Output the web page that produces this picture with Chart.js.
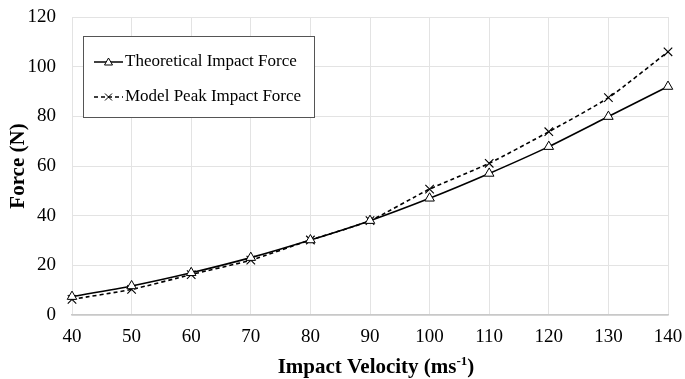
<!DOCTYPE html>
<html>
<head>
<meta charset="utf-8">
<script src="https://cdn.jsdelivr.net/npm/chart.js@4"></script>
<style>
html,body{margin:0;padding:0;background:#fff;}
#wrap{width:685px;height:379px;position:relative;}
</style>
</head>
<body>
<div id="wrap"><canvas id="c" width="685" height="379"></canvas></div>
<script>
const velocities = [40, 50, 60, 70, 80, 90, 100, 110, 120, 130, 140];
const theoreticalForce = [7.4, 11.7, 17.0, 23.1, 30.2, 38.0, 47.0, 57.0, 67.8, 79.9, 92.0];
const modelPeakForce = [6.3, 10.3, 16.3, 22.1, 30.2, 38.0, 50.7, 61.1, 73.8, 87.5, 106.0];
const seriesLabels = ["Theoretical Impact Force", "Model Peak Impact Force"];
const yTitle = "Force (N)";
const xTitleMain = "Impact Velocity (ms";
const xTitleSup = "-1";
const xTitleEnd = ")";

const SERIF = '"Liberation Serif", "Times New Roman", serif';

const legendPlugin = {
  id: 'boxLegend',
  afterDraw(chart) {
    const ctx = chart.ctx;
    const x0 = 83, y0 = 36, w = 231, h = 81;
    ctx.save();
    ctx.fillStyle = '#fff';
    ctx.fillRect(x0, y0, w, h);
    ctx.strokeStyle = '#555';
    ctx.lineWidth = 1;
    ctx.strokeRect(x0 + 0.5, y0 + 0.5, w, h);
    const rows = [62, 97];
    chart.data.datasets.forEach((ds, i) => {
      const yy = rows[i];
      ctx.strokeStyle = '#000';
      ctx.lineWidth = 1.5;
      ctx.setLineDash(ds.borderDash || []);
      ctx.beginPath();
      ctx.moveTo(94, yy);
      ctx.lineTo(123, yy);
      ctx.stroke();
      ctx.setLineDash([]);
      ctx.lineWidth = 1;
      if (ds.pointStyle === 'triangle') {
        ctx.fillStyle = '#fff';
        ctx.beginPath();
        ctx.moveTo(108.5, yy - 4);
        ctx.lineTo(112.5, yy + 3);
        ctx.lineTo(104.5, yy + 3);
        ctx.closePath();
        ctx.fill();
        ctx.stroke();
      } else {
        ctx.beginPath();
        ctx.moveTo(105, yy - 3.5); ctx.lineTo(112, yy + 3.5);
        ctx.moveTo(112, yy - 3.5); ctx.lineTo(105, yy + 3.5);
        ctx.stroke();
      }
      ctx.fillStyle = '#000';
      ctx.font = '17px ' + SERIF;
      ctx.textBaseline = 'middle';
      ctx.textAlign = 'left';
      ctx.fillText(ds.label, 125, yy);
    });
    ctx.restore();
  }
};

const titlePlugin = {
  id: 'axisTitles',
  afterDraw(chart) {
    const ctx = chart.ctx;
    ctx.save();
    ctx.fillStyle = '#000';
    const big = 'bold 21px ' + SERIF;
    const small = 'bold 13px ' + SERIF;
    ctx.font = big;
    const w1 = ctx.measureText(xTitleMain).width;
    const w3 = ctx.measureText(xTitleEnd).width;
    ctx.font = small;
    const w2 = ctx.measureText(xTitleSup).width;
    const total = w1 + w2 + w3;
    const cx = 376;
    let x = cx - total / 2;
    const yb = 373;
    ctx.textBaseline = 'alphabetic';
    ctx.textAlign = 'left';
    ctx.font = big;
    ctx.fillText(xTitleMain, x, yb);
    x += w1;
    ctx.font = small;
    ctx.fillText(xTitleSup, x, yb - 8);
    x += w2;
    ctx.font = big;
    ctx.fillText(xTitleEnd, x, yb);
    ctx.translate(19, 166);
    ctx.rotate(-Math.PI / 2);
    ctx.font = big;
    ctx.textAlign = 'center';
    ctx.textBaseline = 'middle';
    ctx.fillText(yTitle, 0, 0);
    ctx.restore();
  }
};

const ctx = document.getElementById('c').getContext('2d');
new Chart(ctx, {
  type: 'line',
  data: {
    datasets: [
      {
        label: seriesLabels[0],
        data: velocities.map((v, i) => ({x: v, y: theoreticalForce[i]})),
        borderColor: '#000',
        borderWidth: 1.6,
        pointStyle: 'triangle',
        pointRadius: 5.5,
        pointBorderWidth: 1,
        pointBorderColor: '#000',
        pointBackgroundColor: '#fff',
        tension: 0.2,
        clip: false,
        fill: false
      },
      {
        label: seriesLabels[1],
        data: velocities.map((v, i) => ({x: v, y: modelPeakForce[i]})),
        borderColor: '#000',
        borderWidth: 1.6,
        borderDash: [4, 3],
        pointStyle: 'crossRot',
        pointRadius: 6,
        pointBorderWidth: 1.1,
        pointBorderColor: '#000',
        pointBackgroundColor: '#fff',
        tension: 0.2,
        clip: false,
        fill: false
      }
    ]
  },
  options: {
    responsive: false,
    animation: false,
    layout: {padding: {top: 17, right: 17, left: 0, bottom: 0}},
    plugins: {legend: {display: false}, tooltip: {enabled: false}},
    scales: {
      x: {
        type: 'linear',
        min: 40, max: 140,
        ticks: {stepSize: 10, color: '#000', font: {family: SERIF, size: 19}, padding: 11, maxRotation: 0},
        grid: {color: '#e3e3e3', drawTicks: false},
        border: {color: '#c8c8c8', width: 1.5},
        afterFit(s) { s.height = 64; s.paddingLeft = 0; s.paddingRight = 0; }
      },
      y: {
        min: 0, max: 120,
        ticks: {stepSize: 20, color: '#000', font: {family: SERIF, size: 19}, padding: 16},
        grid: {color: '#e3e3e3', drawTicks: false},
        border: {display: false},
        afterFit(s) { s.width = 72; s.paddingTop = 0; s.paddingBottom = 0; }
      }
    }
  },
  plugins: [legendPlugin, titlePlugin]
});
</script>
</body>
</html>
